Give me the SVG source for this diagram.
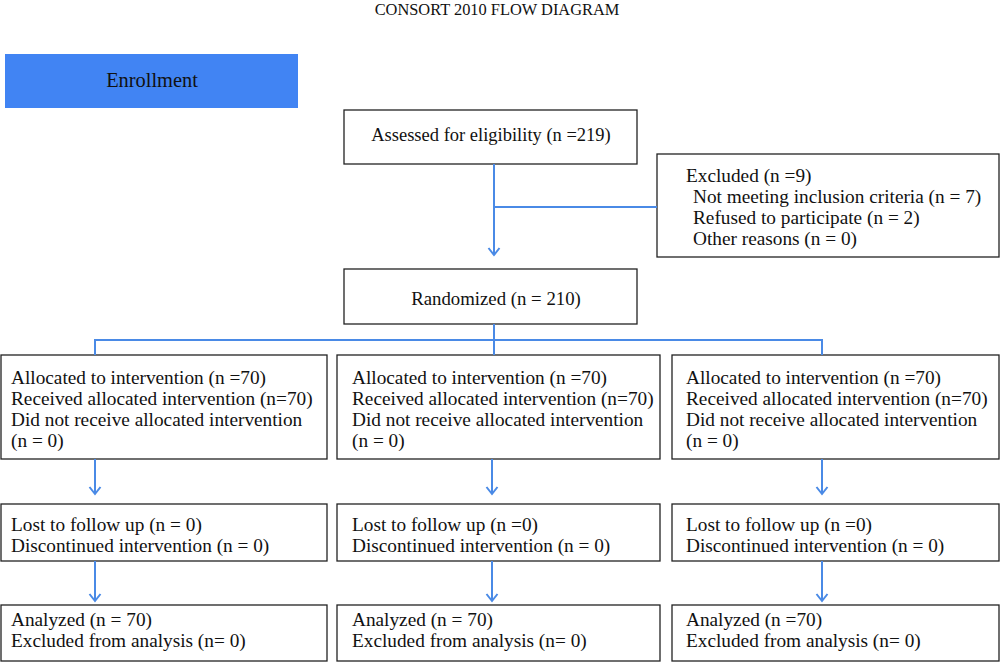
<svg xmlns="http://www.w3.org/2000/svg" width="1000" height="663" viewBox="0 0 1000 663">
<defs>
<style>
.box{fill:#fff;stroke:#222;stroke-width:1.3}
.t{font-family:"Liberation Serif","DejaVu Serif",serif;font-size:19.3px;fill:#111}
.c{stroke:#4a8ae6;stroke-width:2;fill:none}
</style>
<marker id="arr" markerWidth="14" markerHeight="14" refX="9" refY="7" orient="auto" markerUnits="userSpaceOnUse" viewBox="0 0 14 14">
<polyline points="2,1.5 9,7 2,12.5" fill="none" stroke="#4a8ae6" stroke-width="2"/>
</marker>
</defs>
<rect width="1000" height="663" fill="#fff"/>
<text class="t" x="497" y="15" text-anchor="middle" style="font-size:16.4px">CONSORT 2010 FLOW DIAGRAM</text>
<g id="enrollment">
<rect x="5" y="54" width="293" height="54" fill="#4184f3"/>
<text class="t" x="152" y="87" text-anchor="middle" style="font-size:20.4px">Enrollment</text>
</g>
<g id="assessed">
<rect class="box" x="344" y="110" width="293" height="54"/>
<text class="t" x="491" y="141" text-anchor="middle" style="font-size:18.5px">Assessed for eligibility (n =219)</text>
</g>
<g id="excluded">
<rect class="box" x="657" y="154" width="342" height="103"/>
<text class="t" x="686" y="182">Excluded (n =9)</text>
<text class="t" x="693" y="203">Not meeting inclusion criteria (n = 7)</text>
<text class="t" x="693" y="224">Refused to participate (n = 2)</text>
<text class="t" x="693" y="245">Other reasons (n = 0)</text>
</g>
<g id="randomized">
<rect class="box" x="344" y="269" width="293" height="55"/>
<text class="t" x="496" y="305" text-anchor="middle" style="font-size:18.8px">Randomized (n = 210)</text>
</g>
<g id="alloc1">
<rect class="box" x="1" y="355" width="326" height="104"/>
<text class="t" x="11" y="384">Allocated to intervention (n =70)</text>
<text class="t" x="11" y="405">Received allocated intervention (n=70)</text>
<text class="t" x="11" y="426">Did not receive allocated intervention</text>
<text class="t" x="11" y="447">(n = 0)</text>
</g>
<g id="alloc2">
<rect class="box" x="337" y="355" width="323" height="104"/>
<text class="t" x="352" y="384">Allocated to intervention (n =70)</text>
<text class="t" x="352" y="405">Received allocated intervention (n=70)</text>
<text class="t" x="352" y="426">Did not receive allocated intervention</text>
<text class="t" x="352" y="447">(n = 0)</text>
</g>
<g id="alloc3">
<rect class="box" x="672" y="355" width="327" height="104"/>
<text class="t" x="686" y="384">Allocated to intervention (n =70)</text>
<text class="t" x="686" y="405">Received allocated intervention (n=70)</text>
<text class="t" x="686" y="426">Did not receive allocated intervention</text>
<text class="t" x="686" y="447">(n = 0)</text>
</g>
<g id="follow1">
<rect class="box" x="1" y="504" width="326" height="57"/>
<text class="t" x="11" y="531">Lost to follow up (n = 0)</text>
<text class="t" x="11" y="552">Discontinued intervention (n = 0)</text>
</g>
<g id="follow2">
<rect class="box" x="337" y="504" width="323" height="57"/>
<text class="t" x="352" y="531">Lost to follow up (n =0)</text>
<text class="t" x="352" y="552">Discontinued intervention (n = 0)</text>
</g>
<g id="follow3">
<rect class="box" x="672" y="504" width="327" height="57"/>
<text class="t" x="686" y="531">Lost to follow up (n =0)</text>
<text class="t" x="686" y="552">Discontinued intervention (n = 0)</text>
</g>
<g id="analysis1">
<rect class="box" x="1" y="605" width="326" height="56"/>
<text class="t" x="11" y="626">Analyzed (n = 70)</text>
<text class="t" x="11" y="647">Excluded from analysis (n= 0)</text>
</g>
<g id="analysis2">
<rect class="box" x="337" y="605" width="323" height="56"/>
<text class="t" x="352" y="626">Analyzed (n = 70)</text>
<text class="t" x="352" y="647">Excluded from analysis (n= 0)</text>
</g>
<g id="analysis3">
<rect class="box" x="672" y="605" width="327" height="56"/>
<text class="t" x="686" y="626">Analyzed (n =70)</text>
<text class="t" x="686" y="647">Excluded from analysis (n= 0)</text>
</g>
<g id="connectors">
<line class="c" x1="494" y1="164" x2="494" y2="255" marker-end="url(#arr)"/>
<line class="c" x1="494" y1="207" x2="657" y2="207"/>
<polyline class="c" points="494,324 494,340"/>
<polyline class="c" points="95,355 95,340 822,340 822,355"/>
<line class="c" x1="494" y1="340" x2="494" y2="355"/>
<line class="c" x1="95" y1="459" x2="95" y2="494" marker-end="url(#arr)"/>
<line class="c" x1="492" y1="459" x2="492" y2="494" marker-end="url(#arr)"/>
<line class="c" x1="822" y1="459" x2="822" y2="494" marker-end="url(#arr)"/>
<line class="c" x1="95" y1="561" x2="95" y2="601" marker-end="url(#arr)"/>
<line class="c" x1="492" y1="561" x2="492" y2="601" marker-end="url(#arr)"/>
<line class="c" x1="822" y1="561" x2="822" y2="601" marker-end="url(#arr)"/>
</g>
</svg>
